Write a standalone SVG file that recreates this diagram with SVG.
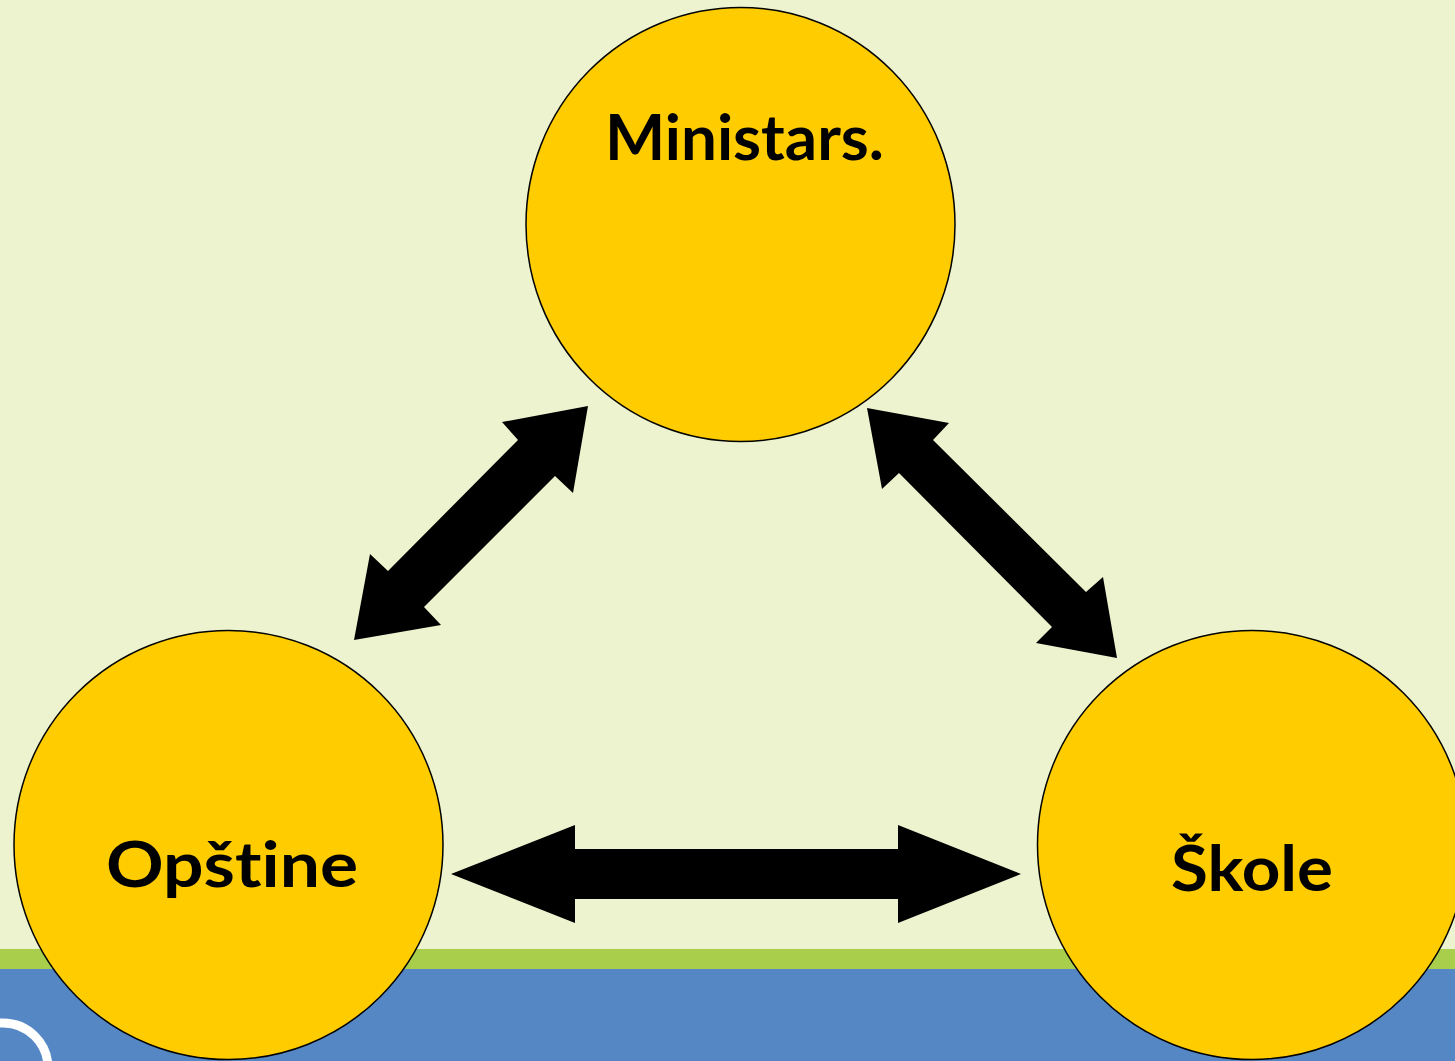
<svg xmlns="http://www.w3.org/2000/svg" width="1455" height="1061" viewBox="0 0 1455 1061">
<style>
.node circle,.node ellipse{fill:#FFCC00;stroke:#000;stroke-width:1.5}
.node text{font-family:Lato,"Open Sans","Liberation Sans",sans-serif;font-weight:bold;font-size:63px;fill:#000;font-variant-ligatures:none;font-feature-settings:"liga" 0,"clig" 0}
.arrow{fill:#000}
</style>
<rect x="0" y="0" width="1455" height="1061" fill="#EDF3CF"/>
<rect x="0" y="949" width="1455" height="20" fill="#A8CE4C"/>
<rect x="0" y="969" width="1455" height="92" fill="#5487C4"/>
<circle cx="3" cy="1068" r="45" fill="none" stroke="#FFFFFF" stroke-width="9"/>
<g id="connectors">
<path class="arrow" d="M588,406 L502,422 L518,440 L388,571 L370,554 L354,640 L441,625 L424,607 L555,476 L573,493 Z"/>
<path class="arrow" d="M867,408 L949,423 L933,440 L1086,592 L1103,577 L1117,658 L1036,643 L1052,627 L899,473 L882,489 Z"/>
<path class="arrow" d="M451,874 L575,825 L575,849 L898,849 L898,825 L1021,874 L898,923 L898,899 L575,899 L575,923 Z"/>
</g>
<g id="node-ministarstvo" class="node">
<ellipse cx="740.5" cy="224.5" rx="214.5" ry="217"/>
<text x="605" y="160" textLength="279" lengthAdjust="spacingAndGlyphs">Ministars.</text>
</g>
<g id="node-opstine" class="node">
<circle cx="228.5" cy="845" r="214.5"/>
<text x="106" y="887" textLength="252" lengthAdjust="spacingAndGlyphs">Opštine</text>
</g>
<g id="node-skole" class="node">
<circle cx="1252" cy="845" r="214.5"/>
<text x="1171" y="891" textLength="162" lengthAdjust="spacingAndGlyphs">Škole</text>
</g>
</svg>
